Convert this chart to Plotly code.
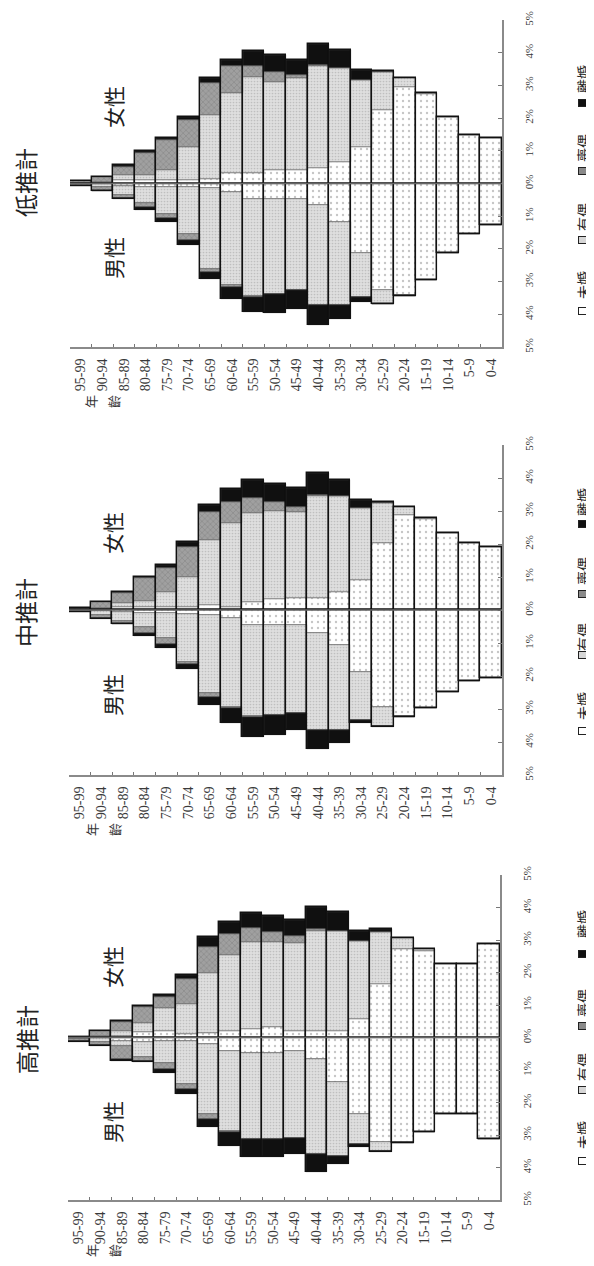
import plotly.graph_objects as go

# ---------------- data ----------------
ages = ["95-99", "90-94", "85-89", "80-84", "75-79", "70-74", "65-69", "60-64",
        "55-59", "50-54", "45-49", "40-44", "35-39", "30-34", "25-29", "20-24",
        "15-19", "10-14", "5-9", "0-4"]
statuses = ["未婚", "有偶", "喪偶", "離婚"]
pct_ticks = [-5, -4, -3, -2, -1, 0, 1, 2, 3, 4, 5]
pct_labels = ["5%", "4%", "3%", "2%", "1%", "0%", "1%", "2%", "3%", "4%", "5%"]

# 低推計 (percent of total population)
low_f_unmarried = [0.00, 0.02, 0.10, 0.10, 0.10, 0.10, 0.15, 0.31, 0.31, 0.41, 0.41, 0.46, 0.66, 1.12, 2.24, 2.96, 2.74, 2.04, 1.48, 1.38]
low_f_married   = [0.01, 0.04, 0.15, 0.15, 0.31, 1.02, 1.94, 2.45, 2.96, 2.70, 2.81, 3.13, 2.86, 2.04, 1.17, 0.28, 0.02, 0.00, 0.00, 0.00]
low_f_widowed   = [0.06, 0.14, 0.27, 0.69, 0.92, 0.82, 0.97, 0.82, 0.31, 0.31, 0.10, 0.03, 0.00, 0.00, 0.00, 0.00, 0.00, 0.00, 0.00, 0.00]
low_f_divorced  = [0.00, 0.00, 0.04, 0.06, 0.05, 0.10, 0.18, 0.20, 0.46, 0.51, 0.46, 0.66, 0.56, 0.31, 0.03, 0.00, 0.00, 0.00, 0.00, 0.00]
low_m_unmarried = [0.00, 0.02, 0.08, 0.10, 0.10, 0.10, 0.15, 0.25, 0.46, 0.46, 0.46, 0.66, 1.17, 2.14, 3.27, 3.42, 2.96, 2.14, 1.53, 1.28]
low_m_married   = [0.03, 0.10, 0.28, 0.51, 0.82, 1.43, 2.45, 2.86, 2.98, 2.91, 2.81, 3.06, 2.55, 1.33, 0.41, 0.03, 0.00, 0.00, 0.00, 0.00]
low_m_widowed   = [0.05, 0.10, 0.07, 0.10, 0.15, 0.20, 0.10, 0.05, 0.03, 0.02, 0.00, 0.00, 0.00, 0.00, 0.00, 0.00, 0.00, 0.00, 0.00, 0.00]
low_m_divorced  = [0.00, 0.00, 0.03, 0.09, 0.10, 0.16, 0.21, 0.36, 0.46, 0.56, 0.56, 0.61, 0.41, 0.15, 0.01, 0.00, 0.00, 0.00, 0.00, 0.00]

# 中推計
mid_f_unmarried = [0.00, 0.02, 0.08, 0.10, 0.10, 0.10, 0.15, 0.10, 0.25, 0.33, 0.35, 0.35, 0.56, 0.91, 2.02, 2.88, 2.76, 2.32, 2.02, 1.92]
mid_f_married   = [0.01, 0.05, 0.12, 0.16, 0.45, 0.91, 1.97, 2.53, 2.68, 2.67, 2.61, 3.10, 2.88, 2.19, 1.21, 0.25, 0.02, 0.00, 0.00, 0.00]
mid_f_widowed   = [0.04, 0.18, 0.33, 0.70, 0.73, 0.91, 0.86, 0.64, 0.45, 0.28, 0.17, 0.03, 0.00, 0.00, 0.00, 0.00, 0.00, 0.00, 0.00, 0.00]
mid_f_divorced  = [0.00, 0.00, 0.03, 0.05, 0.08, 0.13, 0.20, 0.40, 0.56, 0.53, 0.58, 0.66, 0.51, 0.23, 0.05, 0.00, 0.00, 0.00, 0.00, 0.00]
mid_m_unmarried = [0.00, 0.02, 0.06, 0.08, 0.10, 0.12, 0.15, 0.25, 0.45, 0.45, 0.45, 0.71, 1.06, 1.87, 2.93, 3.20, 2.98, 2.47, 2.15, 2.05]
mid_m_married   = [0.02, 0.12, 0.28, 0.45, 0.76, 1.45, 2.35, 2.68, 2.76, 2.72, 2.68, 2.93, 2.58, 1.46, 0.60, 0.03, 0.00, 0.00, 0.00, 0.00]
mid_m_widowed   = [0.04, 0.11, 0.07, 0.17, 0.18, 0.08, 0.13, 0.03, 0.02, 0.01, 0.00, 0.00, 0.00, 0.00, 0.00, 0.00, 0.00, 0.00, 0.00, 0.00]
mid_m_divorced  = [0.01, 0.02, 0.02, 0.08, 0.10, 0.14, 0.25, 0.47, 0.61, 0.61, 0.51, 0.56, 0.40, 0.10, 0.01, 0.00, 0.00, 0.00, 0.00, 0.00]

# 高推計
high_f_unmarried = [0.00, 0.01, 0.05, 0.17, 0.20, 0.10, 0.15, 0.20, 0.26, 0.31, 0.20, 0.20, 0.20, 0.56, 1.65, 2.72, 2.67, 2.26, 2.26, 2.87]
high_f_married   = [0.01, 0.04, 0.15, 0.29, 0.72, 0.92, 1.85, 2.33, 2.67, 2.64, 2.71, 3.08, 3.07, 2.41, 1.60, 0.33, 0.05, 0.00, 0.00, 0.00]
high_f_widowed   = [0.02, 0.15, 0.27, 0.47, 0.34, 0.79, 0.80, 0.65, 0.43, 0.31, 0.20, 0.05, 0.02, 0.00, 0.00, 0.00, 0.00, 0.00, 0.00, 0.00]
high_f_divorced  = [0.00, 0.01, 0.04, 0.04, 0.05, 0.10, 0.28, 0.38, 0.47, 0.49, 0.51, 0.70, 0.56, 0.31, 0.08, 0.00, 0.00, 0.00, 0.00, 0.00]
high_m_unmarried = [0.01, 0.02, 0.10, 0.15, 0.12, 0.10, 0.20, 0.41, 0.48, 0.48, 0.41, 0.67, 1.38, 2.36, 3.23, 3.23, 2.92, 2.36, 2.36, 3.13]
high_m_married   = [0.03, 0.12, 0.15, 0.46, 0.65, 1.33, 2.15, 2.48, 2.63, 2.64, 2.67, 2.92, 2.26, 0.92, 0.26, 0.03, 0.00, 0.00, 0.00, 0.00]
high_m_widowed   = [0.07, 0.10, 0.42, 0.12, 0.20, 0.15, 0.15, 0.03, 0.02, 0.01, 0.00, 0.00, 0.00, 0.00, 0.00, 0.00, 0.00, 0.00, 0.00, 0.00]
high_m_divorced  = [0.02, 0.02, 0.05, 0.03, 0.12, 0.15, 0.26, 0.41, 0.56, 0.56, 0.51, 0.54, 0.26, 0.10, 0.02, 0.00, 0.00, 0.00, 0.00, 0.00]

# ---------------- layout helpers (screen-pixel geometry) ----------------
OFF = 8                      # default page body margin
FIG_W, FIG_H = 594 - OFF, 1266 - 2 * OFF
def px(x):
    return (x - OFF) / FIG_W
def py(y):
    return 1 - (y - OFF) / FIG_H

STYLE = {
    "未婚": dict(color="white",
               pattern=dict(shape=".", fgcolor="#8c8c8c", bgcolor="white", size=6, solidity=0.12)),
    "有偶": dict(color="#dadada",
               pattern=dict(shape=".", fgcolor="#a0a0a0", bgcolor="#dedede", size=3, solidity=0.25)),
    "喪偶": dict(color="#969696",
               pattern=dict(shape="x", fgcolor="#666666", bgcolor="#a0a0a0", size=4, solidity=0.25)),
    "離婚": dict(color="#101010"),
}
LEG_FILL = {"未婚": "white", "有偶": "#d6d6d6", "喪偶": "#8a8a8a", "離婚": "#101010"}

panels = [
    dict(title="低推計", f=[low_f_unmarried, low_f_married, low_f_widowed, low_f_divorced],
         m=[low_m_unmarried, low_m_married, low_m_widowed, low_m_divorced],
         xpix=(70, 502), ypix=(20, 347), title_pos=(25, 183), fem=(113, 107), mal=(113, 258),
         age_lbl=402, leg_text=[285, 217, 148, 79], leg_sym=[311, 240, 171, 103]),
    dict(title="中推計", f=[mid_f_unmarried, mid_f_married, mid_f_widowed, mid_f_divorced],
         m=[mid_m_unmarried, mid_m_married, mid_m_widowed, mid_m_divorced],
         xpix=(69, 502), ypix=(445, 775), title_pos=(25, 613), fem=(112, 533), mal=(112, 695),
         age_lbl=830, leg_text=[706, 637, 571, 502], leg_sym=[731, 655, 594, 524]),
    dict(title="高推計", f=[high_f_unmarried, high_f_married, high_f_widowed, high_f_divorced],
         m=[high_m_unmarried, high_m_married, high_m_widowed, high_m_divorced],
         xpix=(68, 500), ypix=(875, 1200), title_pos=(26, 1040), fem=(112, 967), mal=(112, 1122),
         age_lbl=1251, leg_text=[1135, 1067, 1003, 924], leg_sym=[1161, 1090, 1026, 954]),
]

fig = go.Figure()
annotations = []
shapes = []
CJK = "Noto Sans CJK TC"
SERIF = "Liberation Serif"

def note(text, x, y, size, color="#222", **kw):
    d = dict(text=text, x=px(x), y=py(y), xref="paper", yref="paper",
             xanchor="center", yanchor="middle", showarrow=False, textangle=-90,
             font=dict(family=CJK, size=size, color=color))
    d.update(kw)
    return d

for i, p in enumerate(panels):
    sfx = "" if i == 0 else str(i + 1)
    xa, ya = "x" + sfx, "y" + sfx
    for sex, sign in (("f", 1), ("m", -1)):
        series = p[sex]
        cum = [0.0] * len(ages)
        for name, vals in zip(statuses, series):
            st = STYLE[name]
            marker = dict(color=st["color"], line=dict(color="#5a5a5a", width=0.6))
            if "pattern" in st:
                marker["pattern"] = st["pattern"]
            fig.add_trace(go.Bar(
                x=ages, y=[sign * v for v in vals], base=[sign * c for c in cum],
                marker=marker, xaxis=xa, yaxis=ya, name=name, showlegend=False,
                hoverinfo="skip"))
            cum = [c + v for c, v in zip(cum, vals)]
        # outline of the whole age bar
        fig.add_trace(go.Bar(
            x=ages, y=[sign * c for c in cum], base=[0] * len(ages),
            marker=dict(color="rgba(0,0,0,0)", line=dict(color="#111", width=1.4)),
            xaxis=xa, yaxis=ya, showlegend=False, hoverinfo="skip"))

    x0, x1 = p["xpix"]
    y0, y1 = p["ypix"]
    xkey = "xaxis" + sfx
    ykey = "yaxis" + sfx
    fig.update_layout(**{
        xkey: dict(domain=[px(x0), px(x1)], anchor=ya, type="category",
                   categoryorder="array", categoryarray=ages, automargin=False,
                   showline=True, linecolor="#8a8a8a", linewidth=2,
                   ticks="inside", tickson="boundaries", ticklen=3, tickcolor="#777",
                   tickangle=-90, ticklabelstandoff=4,
                   tickfont=dict(family=SERIF, size=14, color="#3a3a3a"),
                   showgrid=False, zeroline=False, fixedrange=True),
        ykey: dict(domain=[py(y1), py(y0)], anchor=xa, side="right", automargin=False,
                   range=[-5, 5], tickvals=pct_ticks, ticktext=pct_labels,
                   tickangle=-90, showline=True, linecolor="#8a8a8a", linewidth=2,
                   ticks="inside", ticklen=4, tickcolor="#777", ticklabelstandoff=16,
                   tickfont=dict(family=SERIF, size=11, color="#3a3a3a"),
                   showgrid=False, zeroline=False, fixedrange=True),
    })

    # centre line between the sexes
    shapes.append(dict(type="line", xref=xa + " domain", yref=ya, x0=0, x1=1, y0=0, y1=0,
                       line=dict(color="#666", width=1.4), layer="above"))

    tx, ty = p["title_pos"]
    annotations.append(note(p["title"], tx, ty, 23, borderpad=0))
    for lbl, pos in (("女性", p["fem"]), ("男性", p["mal"])):
        annotations.append(note(lbl, pos[0], pos[1], 21))
    for ch, cx in (("年", 91), ("齡", 114)):
        annotations.append(note(ch, cx, p["age_lbl"], 13, color="#333"))
    # legend (rotated)
    for name, ty_, sy in zip(statuses, p["leg_text"], p["leg_sym"]):
        annotations.append(note(name, 583, ty_, 14))
        annotations.append(note(" ", 583, sy, 4, width=9, height=6, borderpad=0,
                                bgcolor=LEG_FILL[name], bordercolor="#222", borderwidth=1,
                                textangle=0))

fig.update_layout(
    width=FIG_W, height=FIG_H, margin=dict(l=0, r=0, t=0, b=0, autoexpand=False),
    barmode="overlay", bargap=0, showlegend=False,
    paper_bgcolor="white", plot_bgcolor="white",
    annotations=annotations, shapes=shapes,
)

fig.write_html("out.html")
